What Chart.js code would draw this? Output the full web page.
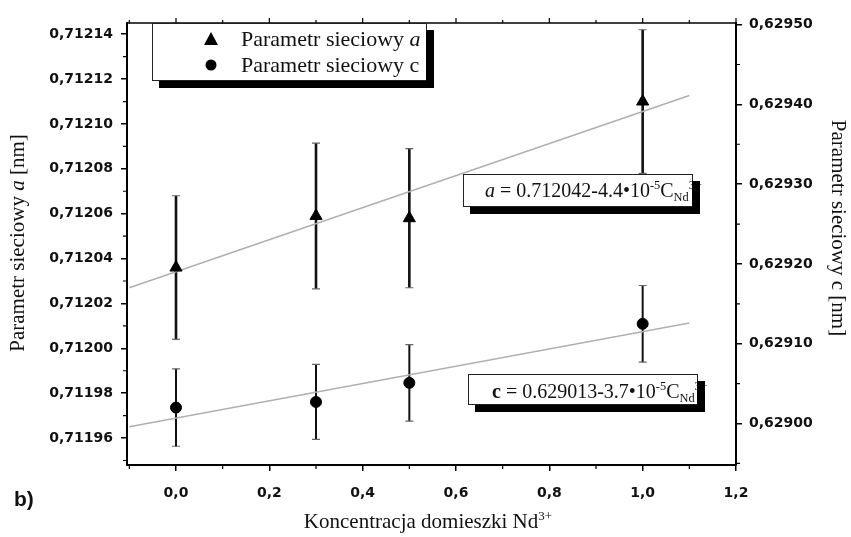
<!DOCTYPE html>
<html>
<head>
<meta charset="utf-8">
<script src="https://cdn.jsdelivr.net/npm/chart.js@4.4.1/dist/chart.umd.min.js"></script>
<style>
  html, body { margin: 0; padding: 0; background: #fff; }
  canvas { display: block; }
</style>
</head>
<body>
<canvas id="chart" width="851" height="537"></canvas>
<script>
// values
const conc = [0.0, 0.3, 0.5, 1.0];
const paramA = [0.712036, 0.712059, 0.712058, 0.712110];
const errA = [0.000032, 0.0000325, 0.000031, 0.000032];
const paramC = [0.629020, 0.629027, 0.629051, 0.629125];
const errC = [0.0000485, 0.000047, 0.000048, 0.000048];

// fitted lines (ends as drawn)
const fitX = [-0.1, 1.1];
const fitA = [0.712027, 0.7121127];
const fitC = [0.628996, 0.629126];

// ticks
const xTicks = [0.0, 0.2, 0.4, 0.6, 0.8, 1.0, 1.2];
const xMinor = [-0.1, 0.1, 0.3, 0.5, 0.7, 0.9, 1.1];
const aTicks = [0.71196, 0.71198, 0.71200, 0.71202, 0.71204, 0.71206, 0.71208, 0.71210, 0.71212, 0.71214];
const aMinor = [0.71195, 0.71197, 0.71199, 0.71201, 0.71203, 0.71205, 0.71207, 0.71209, 0.71211, 0.71213];
const cTicks = [0.62900, 0.62910, 0.62920, 0.62930, 0.62940, 0.62950];
const cMinor = [0.62895, 0.62905, 0.62915, 0.62925, 0.62935, 0.62945];

const SERIF = '"Liberation Serif", "Times New Roman", serif';
const TICKFONT = { family: '"DejaVu Sans", sans-serif', size: 14, weight: 'bold' };

// helpers for mixed-style text (italic, sub/superscripts)
function runFont(r, size) {
  const s = r.pos ? size * 0.62 : size;
  return (r.st === 'italic' ? 'italic ' : '') + (r.st === 'bold' ? 'bold ' : '') + s + 'px ' + SERIF;
}
function runsWidth(ctx, runs, size) {
  let w = 0;
  runs.forEach(r => { ctx.font = runFont(r, size); w += ctx.measureText(r.t).width; });
  return w;
}
function drawRuns(ctx, x, y, runs, size) {
  ctx.textAlign = 'left';
  ctx.textBaseline = 'alphabetic';
  runs.forEach(r => {
    ctx.font = runFont(r, size);
    let dy = 0;
    if (r.pos === 'sup') dy = -size * 0.4;
    if (r.pos === 'sub') dy = size * 0.22;
    ctx.fillText(r.t, x, y + dy);
    x += ctx.measureText(r.t).width;
  });
}

function boxWithShadow(ctx, x, y, w, h) {
  ctx.fillStyle = '#fff';
  ctx.fillRect(x, y, w, h);
  ctx.strokeStyle = '#222';
  ctx.lineWidth = 1;
  ctx.strokeRect(x + 0.5, y + 0.5, w, h);
}
function shadow(ctx, x, y, w, h, sh) {
  ctx.fillStyle = '#000';
  ctx.fillRect(x + 7, y + h + 1, w + 1, sh);       // bottom
  ctx.fillRect(x + w, y + 7, 8, h + sh - 6);        // right
}

const errorBars = {
  id: 'errorBars',
  beforeDatasetsDraw(chart) {
    const { ctx, scales } = chart;
    function bars(vals, errs, sy, lw) {
      vals.forEach((v, i) => {
        const px = scales.x.getPixelForValue(conc[i]);
        const top = sy.getPixelForValue(v + errs[i]);
        const bot = sy.getPixelForValue(v - errs[i]);
        ctx.strokeStyle = '#111';
        ctx.lineWidth = lw;
        ctx.beginPath();
        ctx.moveTo(px, top);
        ctx.lineTo(px, bot);
        ctx.stroke();
        ctx.strokeStyle = '#666';
        ctx.lineWidth = 1.2;
        ctx.beginPath();
        ctx.moveTo(px - 4, top); ctx.lineTo(px + 4, top);
        ctx.moveTo(px - 4, bot); ctx.lineTo(px + 4, bot);
        ctx.stroke();
      });
    }
    ctx.save();
    bars(paramA, errA, scales.y, 2.6);
    bars(paramC, errC, scales.y2, 2);
    ctx.restore();
  }
};

const decorations = {
  id: 'decorations',
  afterDraw(chart) {
    const { ctx, chartArea: ca, scales } = chart;
    ctx.save();
    ctx.strokeStyle = '#000';

    // top frame line with its ticks
    ctx.lineWidth = 1.6;
    ctx.beginPath();
    ctx.moveTo(ca.left, ca.top);
    ctx.lineTo(ca.right, ca.top);
    ctx.stroke();
    ctx.lineWidth = 1.2;
    ctx.beginPath();
    xTicks.forEach(v => { const p = scales.x.getPixelForValue(v); ctx.moveTo(p, ca.top); ctx.lineTo(p, ca.top - 5); });
    xMinor.forEach(v => { const p = scales.x.getPixelForValue(v); ctx.moveTo(p, ca.top); ctx.lineTo(p, ca.top - 3); });
    // minor ticks on the other axes
    xMinor.forEach(v => { const p = scales.x.getPixelForValue(v); ctx.moveTo(p, ca.bottom); ctx.lineTo(p, ca.bottom + 4); });
    aMinor.forEach(v => { const p = scales.y.getPixelForValue(v); ctx.moveTo(ca.left, p); ctx.lineTo(ca.left - 4, p); });
    cMinor.forEach(v => { const p = scales.y2.getPixelForValue(v); ctx.moveTo(ca.right, p); ctx.lineTo(ca.right + 4, p); });
    ctx.stroke();

    ctx.fillStyle = '#111';
    // axis titles
    const leftTitle = [{ t: 'Parametr sieciowy ' }, { t: 'a', st: 'italic' }, { t: ' [nm]' }];
    let w = runsWidth(ctx, leftTitle, 21);
    ctx.save();
    ctx.translate(18, 243);
    ctx.rotate(-Math.PI / 2);
    drawRuns(ctx, -w / 2, 6, leftTitle, 21);
    ctx.restore();

    const rightTitle = [{ t: 'Parametr sieciowy c [nm]' }];
    w = runsWidth(ctx, rightTitle, 21);
    ctx.save();
    ctx.translate(838, 228);
    ctx.rotate(Math.PI / 2);
    drawRuns(ctx, -w / 2, 6, rightTitle, 21);
    ctx.restore();

    const xTitle = [{ t: 'Koncentracja domieszki Nd' }, { t: '3+', pos: 'sup' }];
    w = runsWidth(ctx, xTitle, 21);
    drawRuns(ctx, 428 - w / 2, 528, xTitle, 21);

    // panel letter
    ctx.font = 'bold 21px "Liberation Sans", Arial, sans-serif';
    ctx.textBaseline = 'middle';
    ctx.fillText('b)', 14, 500);

    // legend
    boxWithShadow(ctx, 152, 23, 274, 57);
    ctx.fillStyle = '#000';
    ctx.beginPath();
    ctx.moveTo(211, 32); ctx.lineTo(218, 45); ctx.lineTo(204, 45); ctx.closePath();
    ctx.fill();
    ctx.beginPath();
    ctx.arc(211, 65, 5.5, 0, Math.PI * 2);
    ctx.fill();
    ctx.fillStyle = '#111';
    drawRuns(ctx, 241, 46, [{ t: 'Parametr sieciowy ' }, { t: 'a', st: 'italic' }], 22);
    drawRuns(ctx, 241, 72, [{ t: 'Parametr sieciowy c' }], 22);
    shadow(ctx, 152, 23, 274, 57, 7);

    // fit equations
    boxWithShadow(ctx, 463, 174, 229, 32);
    ctx.fillStyle = '#111';
    drawRuns(ctx, 485, 197, [
      { t: 'a', st: 'italic' }, { t: ' = 0.712042-4.4•10' }, { t: '-5', pos: 'sup' },
      { t: 'C' }, { t: 'Nd', pos: 'sub' }, { t: '3+', pos: 'sup' }
    ], 20);
    shadow(ctx, 463, 174, 229, 32, 7);

    boxWithShadow(ctx, 468, 374, 229, 30);
    ctx.fillStyle = '#111';
    drawRuns(ctx, 492, 398, [
      { t: 'c', st: 'bold' }, { t: ' = 0.629013-3.7•10' }, { t: '-5', pos: 'sup' },
      { t: 'C' }, { t: 'Nd', pos: 'sub' }, { t: '3+', pos: 'sup' }
    ], 20);
    shadow(ctx, 468, 374, 229, 30, 7);

    ctx.restore();
  }
};

const comma = (v, d) => Number(v).toFixed(d).replace('.', ',');

new Chart(document.getElementById('chart'), {
  type: 'scatter',
  data: {
    datasets: [
      {
        label: 'Parametr sieciowy a',
        data: conc.map((x, i) => ({ x, y: paramA[i] })),
        yAxisID: 'y',
        pointStyle: 'triangle',
        pointRadius: 7,
        backgroundColor: '#000',
        borderColor: '#000',
        borderWidth: 1
      },
      {
        label: 'Parametr sieciowy c',
        data: conc.map((x, i) => ({ x, y: paramC[i] })),
        yAxisID: 'y2',
        pointStyle: 'circle',
        pointRadius: 5.5,
        backgroundColor: '#000',
        borderColor: '#000',
        borderWidth: 1
      },
      {
        type: 'line',
        data: fitX.map((x, i) => ({ x, y: fitA[i] })),
        yAxisID: 'y',
        borderColor: '#b0b0b0',
        borderWidth: 1.5,
        pointRadius: 0,
        fill: false
      },
      {
        type: 'line',
        data: fitX.map((x, i) => ({ x, y: fitC[i] })),
        yAxisID: 'y2',
        borderColor: '#b0b0b0',
        borderWidth: 1.5,
        pointRadius: 0,
        fill: false
      }
    ]
  },
  options: {
    responsive: false,
    animation: false,
    layout: { padding: { top: 23, left: 0, right: 0, bottom: 0 } },
    plugins: { legend: { display: false }, tooltip: { enabled: false } },
    scales: {
      x: {
        type: 'linear',
        min: -0.105,
        max: 1.2,
        afterBuildTicks: s => { s.ticks = xTicks.map(v => ({ value: v })); },
        afterFit: s => { s.height = 72; },
        ticks: { color: '#111', font: TICKFONT, padding: 14, callback: v => comma(v, 1), maxRotation: 0 },
        grid: { drawOnChartArea: false, drawTicks: true, tickLength: 6, color: '#000', lineWidth: 1.5 },
        border: { display: true, color: '#000', width: 2 }
      },
      y: {
        position: 'left',
        min: 0.711948,
        max: 0.712145,
        afterBuildTicks: s => { s.ticks = aTicks.map(v => ({ value: v })); },
        afterFit: s => { s.width = 127; },
        ticks: { color: '#111', font: TICKFONT, padding: 8, callback: v => comma(v, 5) },
        grid: { drawOnChartArea: false, drawTicks: true, tickLength: 6, color: '#000', lineWidth: 1.5 },
        border: { display: true, color: '#000', width: 2 }
      },
      y2: {
        position: 'right',
        min: 0.628948,
        max: 0.629502,
        afterBuildTicks: s => { s.ticks = cTicks.map(v => ({ value: v })); },
        afterFit: s => { s.width = 115; },
        ticks: { color: '#111', font: TICKFONT, padding: 7, callback: v => comma(v, 5) },
        grid: { drawOnChartArea: false, drawTicks: true, tickLength: 6, color: '#000', lineWidth: 1.5 },
        border: { display: true, color: '#000', width: 2 }
      }
    }
  },
  plugins: [errorBars, decorations]
});
</script>
</body>
</html>
